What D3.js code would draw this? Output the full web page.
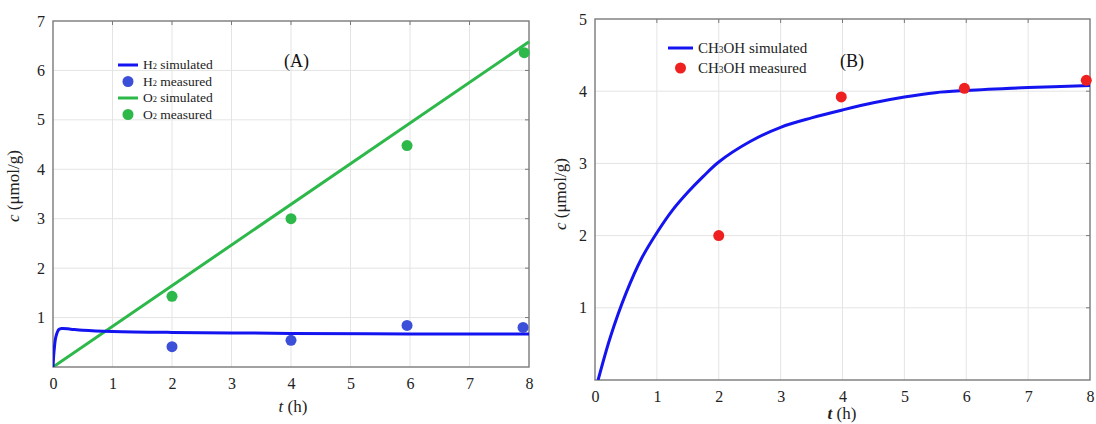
<!DOCTYPE html>
<html>
<head>
<meta charset="utf-8">
<script src="https://cdn.jsdelivr.net/npm/d3@7/dist/d3.min.js"></script>
<style>
  html, body { margin: 0; padding: 0; background: #fff; }
  svg, svg text { font-family: "Liberation Serif", "Times New Roman", serif; }
</style>
</head>
<body>
<svg id="chart" width="1096" height="424"></svg>
<script>
// ---- Panel A: H2 / O2 evolution ----
const tTicks = [0, 1, 2, 3, 4, 5, 6, 7, 8];
const cTicksA = [1, 2, 3, 4, 5, 6, 7];
const h2Simulated = [
  [0, 0], [0.02, 0.35], [0.05, 0.62], [0.1, 0.76], [0.15, 0.78], [0.3, 0.765],
  [0.5, 0.745], [1, 0.72], [2, 0.70], [3, 0.69], [4, 0.68], [6, 0.67], [8, 0.67]
];
const h2Measured = [[2, 0.41], [4, 0.54], [5.95, 0.84], [7.9, 0.80]];
const o2Simulated = [[0, 0], [8, 6.58]];
const o2Measured = [[2, 1.43], [4, 3.0], [5.95, 4.48], [7.92, 6.36]];

// ---- Panel B: CH3OH evolution ----
const cTicksB = [1, 2, 3, 4, 5];
const ch3ohSimulated = [
  [0.05, 0], [0.25, 0.6], [0.5, 1.2], [0.75, 1.68], [1, 2.04], [1.25, 2.35],
  [1.5, 2.6], [1.75, 2.82], [2, 3.02], [2.5, 3.3], [3, 3.5], [3.5, 3.63],
  [4, 3.74], [4.5, 3.84], [5, 3.92], [5.5, 3.98], [6, 4.01], [7, 4.05], [8, 4.08]
];
const ch3ohMeasured = [[2, 2.0], [3.98, 3.92], [5.97, 4.04], [7.94, 4.15]];

const svg = d3.select("#chart");

const BLUE = "#1414f0";
const BLUE_DOT = "#3c4fd8";
const GREEN = "#2db84a";
const RED = "#ee2020";
const AXIS = "#7a7a7a";
const GRID = "#e4e4e4";
const SERIF = "'Liberation Serif', 'Times New Roman', serif";

function panel(cfg) {
  const g = svg.append("g");
  const x = d3.scaleLinear().domain([0, 8]).range([cfg.left, cfg.right]);
  const y = d3.scaleLinear().domain([0, cfg.yMax]).range([cfg.bottom, cfg.top]);

  // grid
  g.append("g").selectAll("line").data(tTicks.slice(1, -1)).join("line")
    .attr("x1", d => x(d)).attr("x2", d => x(d))
    .attr("y1", cfg.top).attr("y2", cfg.bottom)
    .attr("stroke", GRID).attr("stroke-width", 1);
  g.append("g").selectAll("line").data(cfg.yTicks.slice(0, -1)).join("line")
    .attr("x1", cfg.left).attr("x2", cfg.right)
    .attr("y1", d => y(d)).attr("y2", d => y(d))
    .attr("stroke", GRID).attr("stroke-width", 1);

  // axes
  const xAxis = d3.axisBottom(x).tickValues(tTicks).tickSize(0).tickPadding(8).tickFormat(d3.format("d"));
  const yAxis = d3.axisLeft(y).tickValues(cfg.yTicks).tickSize(0).tickPadding(8).tickFormat(d3.format("d"));
  const gx = g.append("g").attr("transform", `translate(0,${cfg.bottom})`).call(xAxis);
  const gy = g.append("g").attr("transform", `translate(${cfg.left},0)`).call(yAxis);
  [gx, gy].forEach(a => {
    a.attr("font-family", null).attr("font-size", null);
    a.select(".domain").remove();
    a.selectAll("text").style("font-family", SERIF).style("font-size", "16px").attr("fill", "#222");
  });
  gx.selectAll("text").attr("dy", "0.9em");

  // small ticks on top and right edges
  g.append("g").selectAll("line").data(tTicks.slice(1, -1)).join("line")
    .attr("x1", d => x(d)).attr("x2", d => x(d))
    .attr("y1", cfg.top).attr("y2", cfg.top + 4)
    .attr("stroke", AXIS);
  g.append("g").selectAll("line").data(cfg.yTicks.slice(0, -1)).join("line")
    .attr("x1", cfg.right).attr("x2", cfg.right - 4)
    .attr("y1", d => y(d)).attr("y2", d => y(d))
    .attr("stroke", AXIS);

  // frame
  g.append("rect")
    .attr("x", cfg.left).attr("y", cfg.top)
    .attr("width", cfg.right - cfg.left).attr("height", cfg.bottom - cfg.top)
    .attr("fill", "none").attr("stroke", AXIS).attr("stroke-width", 1.4);

  // axis titles
  const ylab = g.append("text")
    .attr("transform", `translate(${cfg.yLabelX},${cfg.yLabelY}) rotate(-90)`)
    .attr("text-anchor", "middle").style("font-family", SERIF).style("font-size", "17px").attr("fill", "#222");
  ylab.append("tspan").attr("font-style", "italic").text("c");
  ylab.append("tspan").text(" (μmol/g)");

  const xlab = g.append("text")
    .attr("x", cfg.xLabelX).attr("y", cfg.xLabelY)
    .attr("text-anchor", "middle").style("font-family", SERIF).style("font-size", "17px").attr("fill", "#222");
  xlab.append("tspan").attr("font-style", "italic").attr("font-weight", cfg.tBold ? "bold" : "normal").text("t");
  xlab.append("tspan").text(" (h)");

  // panel tag
  g.append("text").attr("x", cfg.tagX).attr("y", cfg.tagY)
    .style("font-family", SERIF).style("font-size", "18px").attr("fill", "#111").text(cfg.tag);

  const clipId = "clip" + cfg.tag.replace(/\W/g, "");
  svg.append("clipPath").attr("id", clipId).append("rect")
    .attr("x", cfg.left).attr("y", cfg.top - 2)
    .attr("width", cfg.right - cfg.left + 1).attr("height", cfg.bottom - cfg.top + 2);

  return { g, x, y, clipId };
}

const line = (x, y) => d3.line().x(d => x(d[0])).y(d => y(d[1])).curve(d3.curveCatmullRom.alpha(0.5));

function drawLine(p, data, color) {
  p.g.append("path").datum(data)
    .attr("d", line(p.x, p.y))
    .attr("fill", "none").attr("stroke", color).attr("stroke-width", 3)
    .attr("clip-path", `url(#${p.clipId})`);
}
function drawDots(p, data, color) {
  p.g.append("g").selectAll("circle").data(data).join("circle")
    .attr("cx", d => p.x(d[0])).attr("cy", d => p.y(d[1])).attr("r", 5.5)
    .attr("fill", color);
}

function legend(g, x0, y0, rowH, fontSize, items) {
  items.forEach((it, i) => {
    const cy = y0 + i * rowH;
    if (it.type === "line") {
      g.append("line").attr("x1", x0).attr("x2", x0 + it.w).attr("y1", cy).attr("y2", cy)
        .attr("stroke", it.color).attr("stroke-width", 3);
    } else {
      g.append("circle").attr("cx", x0 + it.w / 2).attr("cy", cy).attr("r", 5.5).attr("fill", it.color);
    }
    const t = g.append("text").attr("x", x0 + it.w + 5).attr("y", cy + fontSize * 0.33)
      .style("font-family", SERIF).style("font-size", fontSize + "px").attr("fill", "#222");
    t.append("tspan").text(it.label[0]);
    t.append("tspan").style("font-size", (fontSize * 0.62) + "px").text(it.label[1]);
    t.append("tspan").text(it.label[2]);
  });
}

// Panel A
const pA = panel({
  left: 53, right: 529, top: 21, bottom: 367, yMax: 7, yTicks: cTicksA,
  yLabelX: 19, yLabelY: 186, xLabelX: 293, xLabelY: 412, tag: "(A)", tagX: 284, tagY: 67, tBold: false
});
drawLine(pA, o2Simulated, GREEN);
drawLine(pA, h2Simulated, BLUE);
drawDots(pA, h2Measured, BLUE_DOT);
drawDots(pA, o2Measured, GREEN);
legend(pA.g, 118, 65, 16.5, 13.5, [
  { type: "line", w: 20, color: BLUE, label: ["H", "2", " simulated"] },
  { type: "dot", w: 20, color: BLUE_DOT, label: ["H", "2", " measured"] },
  { type: "line", w: 20, color: GREEN, label: ["O", "2", " simulated"] },
  { type: "dot", w: 20, color: GREEN, label: ["O", "2", " measured"] }
]);

// Panel B
const pB = panel({
  left: 595, right: 1090, top: 19, bottom: 380, yMax: 5, yTicks: cTicksB,
  yLabelX: 566, yLabelY: 194, xLabelX: 842, xLabelY: 419, tag: "(B)", tagX: 840, tagY: 67, tBold: true
});
drawLine(pB, ch3ohSimulated, BLUE);
drawDots(pB, ch3ohMeasured, RED);
legend(pB.g, 668, 48, 20, 15, [
  { type: "line", w: 25, color: BLUE, label: ["CH", "3", "OH simulated"] },
  { type: "dot", w: 25, color: RED, label: ["CH", "3", "OH measured"] }
]);
</script>
</body>
</html>
